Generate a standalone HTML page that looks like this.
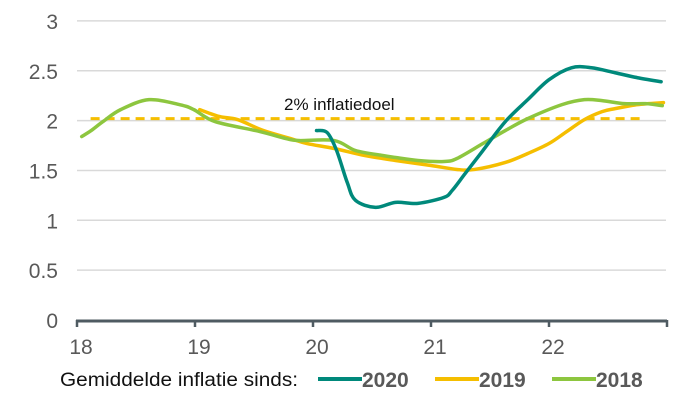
<!DOCTYPE html>
<html><head><meta charset="utf-8"><style>
html,body{margin:0;padding:0;background:#fff;}
svg{display:block;font-family:"Liberation Sans",sans-serif;}
</style></head><body>
<svg id="chart" width="686" height="400" viewBox="0 0 686 400"></svg>
<script>
const yTicks=[0,0.5,1,1.5,2,2.5,3];
const yTickLabels=["0","0.5","1","1.5","2","2.5","3"];
const xTicks=[18,19,20,21,22,23];
const xTickLabels=["18","19","20","21","22",""];
const target=2.02;
const targetRange=[18.2,22.78];
const x2018=[18.04,18.12,18.22,18.37,18.61,18.87,18.99,19.17,19.55,19.77,19.88,20.18,20.36,20.59,20.7,20.89,21.11,21.22,21.44,21.63,21.82,22.11,22.3,22.45,22.64,22.82,22.96];
const v2018=[1.84,1.9,1.99,2.11,2.21,2.16,2.11,1.99,1.89,1.82,1.8,1.8,1.7,1.65,1.63,1.6,1.59,1.62,1.77,1.9,2.02,2.16,2.21,2.2,2.17,2.17,2.15];
const x2019=[19.04,19.21,19.36,19.58,19.81,19.95,20.18,20.44,20.7,21.0,21.22,21.37,21.63,21.82,22.0,22.15,22.3,22.45,22.56,22.75,22.97];
const v2019=[2.11,2.04,2.01,1.9,1.82,1.77,1.72,1.65,1.6,1.55,1.51,1.51,1.58,1.67,1.77,1.89,2.01,2.09,2.12,2.16,2.18];
const x2020=[20.03,20.12,20.2,20.29,20.36,20.53,20.7,20.89,21.11,21.18,21.29,21.44,21.63,21.82,22.0,22.19,22.36,22.56,22.75,22.95];
const v2020=[1.9,1.88,1.7,1.38,1.2,1.13,1.18,1.17,1.23,1.3,1.47,1.7,1.99,2.21,2.41,2.53,2.53,2.48,2.43,2.39];

const NS="http://www.w3.org/2000/svg";
const svg=document.getElementById('chart');
const X=v=>77+(v-18)*118;
const Y=v=>320-v*99.7;
function mk(t,a){const e=document.createElementNS(NS,t);for(const k in a)e.setAttribute(k,a[k]);svg.appendChild(e);return e;}

yTicks.forEach((t,i)=>{
  if(t>0){const g=mk('line',{x1:77,x2:666,y1:Y(t),y2:Y(t),stroke:'#d9d9d9','stroke-width':1.5});
  
  }
  const l=mk('text',{x:58,y:Y(t)+8,'text-anchor':'end','font-size':21,fill:'#595959'});
  l.textContent=yTickLabels[i];
  
  
});
const ax=mk('line',{x1:76,x2:667,y1:321,y2:321,stroke:'#4f5b62','stroke-width':3});


xTicks.forEach((t,i)=>{
  const tk=mk('line',{x1:X(t),x2:X(t),y1:320,y2:327,stroke:'#4f5b62','stroke-width':2.5});
  
  
  if(xTickLabels[i]){const l=mk('text',{x:X(t)+4,y:354,'text-anchor':'middle','font-size':21,fill:'#595959'});
  l.textContent=xTickLabels[i];
  
  }
});
const tl=mk('line',{x1:X(targetRange[0])-10,x2:X(targetRange[1]),y1:Y(target),y2:Y(target),stroke:'#f5be00','stroke-width':3,'stroke-dasharray':'9,6'});


const tt=mk('text',{x:284,y:110,'font-size':17,fill:'#111'});
tt.textContent='2% inflatiedoel';


function smooth(pts){
  let d='M'+pts[0][0]+','+pts[0][1];
  for(let i=0;i<pts.length-1;i++){
    const p0=pts[i-1]||pts[i],p1=pts[i],p2=pts[i+1],p3=pts[i+2]||p2;
    const c1=[p1[0]+(p2[0]-p0[0])/6,p1[1]+(p2[1]-p0[1])/6];
    const c2=[p2[0]-(p3[0]-p1[0])/6,p2[1]-(p3[1]-p1[1])/6];
    d+=' C'+c1[0]+','+c1[1]+' '+c2[0]+','+c2[1]+' '+p2[0]+','+p2[1];
  }
  return d;
}
function series(xs,vs,col,name){
  const p=mk('path',{d:smooth(xs.map((x,i)=>[X(x),Y(vs[i])])),fill:'none',stroke:col,'stroke-width':3.5,'stroke-linejoin':'round','stroke-linecap':'round'});
  
  
}
series(x2019,v2019,'#f5be00','line-2019');
series(x2018,v2018,'#8dc63f','line-2018');
series(x2020,v2020,'#00897b','line-2020');

const lt=mk('text',{x:60,y:386,'font-size':19,fill:'#111',textLength:238,lengthAdjust:'spacingAndGlyphs'});
lt.textContent='Gemiddelde inflatie sinds:';


[[318,'#00897b','2020'],[435,'#f5be00','2019'],[552,'#8dc63f','2018']].forEach(([x,c,n])=>{
  const s=mk('line',{x1:x,x2:x+44,y1:379,y2:379,stroke:c,'stroke-width':4});
  
  
  const t=mk('text',{x:x+44,y:387,'font-size':21,'font-weight':'bold',fill:'#595959'});
  t.textContent=n;
  
  
});
</script>
</body></html>
